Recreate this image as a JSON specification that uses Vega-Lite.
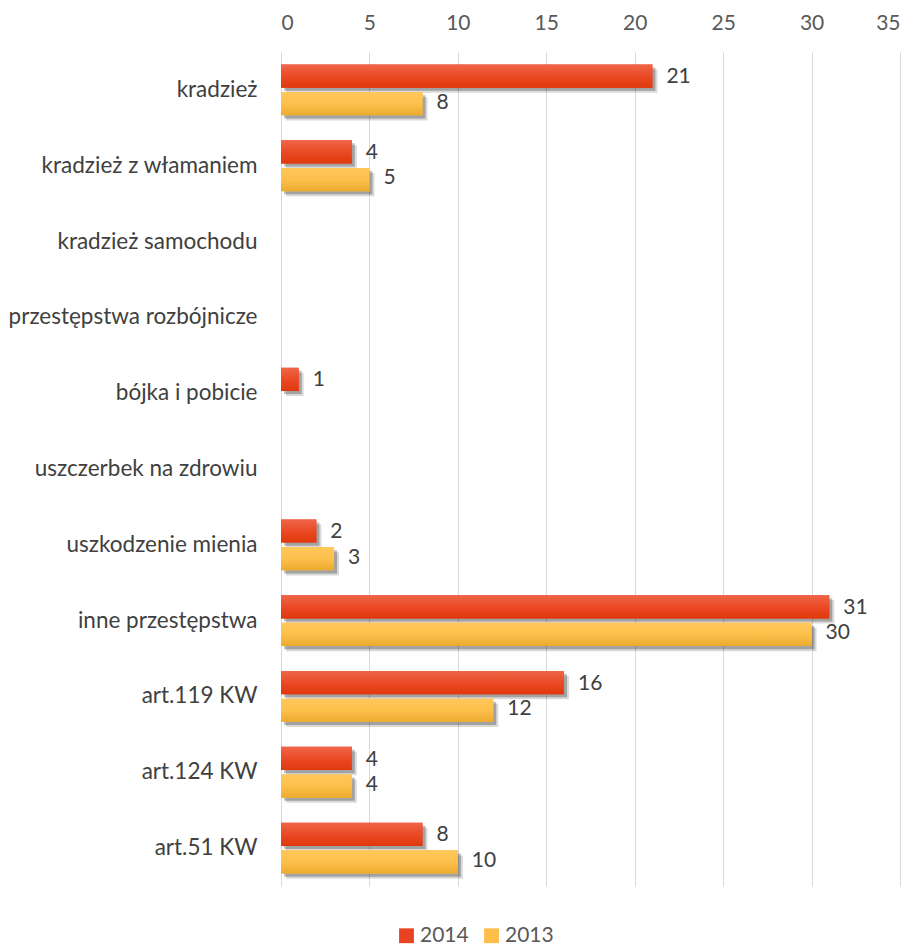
{
  "$schema": "https://vega.github.io/schema/vega-lite/v6.json",
  "width": 619,
  "height": 834,
  "autosize": {"type": "none"},
  "padding": {"left": 281, "top": 52, "right": 11, "bottom": 61},
  "background": "white",
  "config": {"view": {"stroke": null}, "font": "Lato"},
  "data": {
    "values": [
      {"category": "kradzież", "year": "2014", "value": 21},
      {"category": "kradzież", "year": "2013", "value": 8},
      {"category": "kradzież z włamaniem", "year": "2014", "value": 4},
      {"category": "kradzież z włamaniem", "year": "2013", "value": 5},
      {"category": "bójka i pobicie", "year": "2014", "value": 1},
      {"category": "uszkodzenie mienia", "year": "2014", "value": 2},
      {"category": "uszkodzenie mienia", "year": "2013", "value": 3},
      {"category": "inne przestępstwa", "year": "2014", "value": 31},
      {"category": "inne przestępstwa", "year": "2013", "value": 30},
      {"category": "art.119 KW", "year": "2014", "value": 16},
      {"category": "art.119 KW", "year": "2013", "value": 12},
      {"category": "art.124 KW", "year": "2014", "value": 4},
      {"category": "art.124 KW", "year": "2013", "value": 4},
      {"category": "art.51 KW", "year": "2014", "value": 8},
      {"category": "art.51 KW", "year": "2013", "value": 10}
    ]
  },
  "resolve": {"scale": {"yOffset": "independent"}},
  "encoding": {
    "y": {
      "field": "category",
      "type": "nominal",
      "sort": null,
      "scale": {
        "domain": ["kradzież", "kradzież z włamaniem", "kradzież samochodu", "przestępstwa rozbójnicze", "bójka i pobicie", "uszczerbek na zdrowiu", "uszkodzenie mienia", "inne przestępstwa", "art.119 KW", "art.124 KW", "art.51 KW"],
        "paddingInner": 0.33,
        "paddingOuter": 0.165
      },
      "axis": {
        "title": null,
        "ticks": false,
        "domain": false,
        "labelPadding": 24,
        "labelFontSize": 22.5,
        "labelLimit": 400,
        "labelColor": "#404040",
        "labelFont": "Lato"
      }
    },
    "yOffset": {
      "field": "year",
      "type": "nominal",
      "scale": {"domain": ["2014", "2013"], "paddingInner": 0.16}
    },
    "x": {
      "field": "value",
      "type": "quantitative",
      "scale": {"domain": [0, 35], "nice": false},
      "axis": {
        "orient": "top",
        "title": null,
        "values": [0, 5, 10, 15, 20, 25, 30, 35],
        "ticks": false,
        "domain": false,
        "gridColor": "#D9D9D9",
        "gridWidth": 1,
        "labelPadding": 19,
        "labelFontSize": 21,
        "labelColor": "#595959",
        "labelFont": "Lato"
      }
    }
  },
  "layer": [
    {
      "mark": {"type": "bar", "color": "#000000", "opacity": 0.15, "xOffset": 5, "x2Offset": 2},
      "encoding": {
        "yOffset": {
          "field": "year",
          "type": "nominal",
          "scale": {"domain": ["2014", "2013"], "paddingInner": 0.16, "range": [5, 56]}
        }
      }
    },
    {
      "mark": {"type": "bar", "color": "#000000", "opacity": 0.25, "xOffset": 3, "x2Offset": 1},
      "encoding": {
        "yOffset": {
          "field": "year",
          "type": "nominal",
          "scale": {"domain": ["2014", "2013"], "paddingInner": 0.16, "range": [3, 54]}
        }
      }
    },
    {
      "mark": {"type": "bar"},
      "encoding": {
        "color": {
          "field": "year",
          "type": "nominal",
          "scale": {"domain": ["2014", "2013"], "range": ["#E84424", "#FDBF4A"]},
          "legend": {
            "title": null,
            "orient": "none",
            "direction": "horizontal",
            "legendX": 115,
            "legendY": 873,
            "symbolType": "square",
            "symbolSize": 220,
            "symbolStrokeWidth": 0,
            "labelFontSize": 21,
            "labelColor": "#595959",
            "labelFont": "Lato",
            "columnPadding": 12,
            "labelOffset": 3
          }
        }
      }
    },
    {
      "transform": [{"filter": "datum.year == '2014'"}],
      "mark": {
        "type": "bar",
        "color": {
          "gradient": "linear",
          "x1": 0, "y1": 0, "x2": 0, "y2": 1,
          "stops": [
            {"offset": 0, "color": "#EE6648"},
            {"offset": 0.5, "color": "#EA4A25"},
            {"offset": 1, "color": "#E0380C"}
          ]
        }
      },
      "encoding": {}
    },
    {
      "transform": [{"filter": "datum.year == '2013'"}],
      "mark": {
        "type": "bar",
        "color": {
          "gradient": "linear",
          "x1": 0, "y1": 0, "x2": 0, "y2": 1,
          "stops": [
            {"offset": 0, "color": "#FFC75A"},
            {"offset": 0.5, "color": "#FDC04C"},
            {"offset": 1, "color": "#EBAB2E"}
          ]
        }
      },
      "encoding": {}
    },
    {
      "mark": {"type": "text", "align": "left", "baseline": "middle", "dx": 14, "fontSize": 21, "color": "#404040", "font": "Lato"},
      "encoding": {"text": {"field": "value", "type": "quantitative"}}
    }
  ]
}
